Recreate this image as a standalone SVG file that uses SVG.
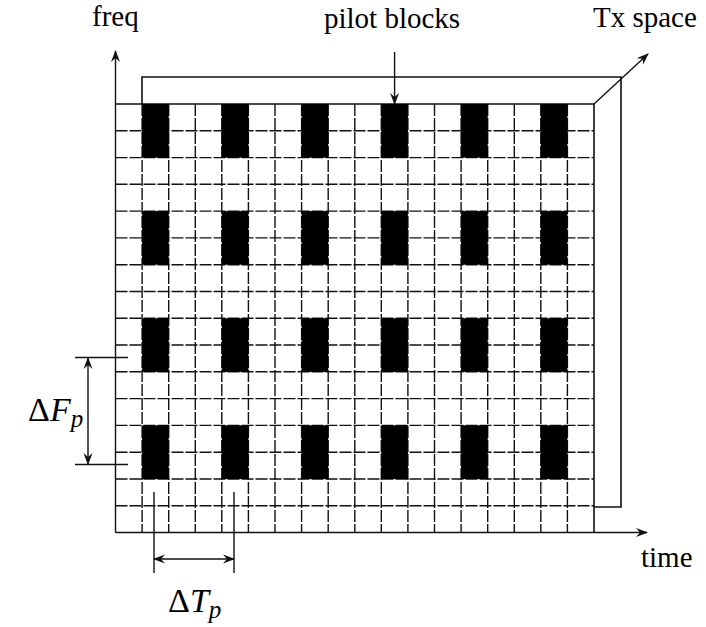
<svg xmlns="http://www.w3.org/2000/svg" width="706" height="627" viewBox="0 0 706 627">
<style>
.lbl{font-family:"Liberation Serif","DejaVu Serif",serif;font-size:29px;fill:#000}
.math{font-family:"Liberation Serif","DejaVu Serif",serif;font-size:34px;fill:#000}
.it{font-style:italic}
.grid{stroke:#111;stroke-width:1.4;stroke-dasharray:12,2;fill:none}
.frame{stroke:#111;stroke-width:1.6;fill:none}
.conn{stroke:#111;stroke-width:1.4;fill:none}
.pilot{fill:#000}
</style>
<defs>
<marker id="ah" viewBox="0 0 12 10" refX="11" refY="5" markerWidth="12" markerHeight="10" markerUnits="userSpaceOnUse" orient="auto-start-reverse">
<path d="M0,0.5 L12,5 L0,9.5 L4,5 Z" fill="#111"/>
</marker>
</defs>
<rect width="706" height="627" fill="#fff"/>

<g id="tx-space-frame">
<polyline class="frame" points="142,104 142,77 621,77 621,507 594,507"/>
</g>

<g id="grid">
<g class="grid">
<path d="M142.1,104V532.5 M168.7,104V532.5 M195.3,104V532.5 M221.8,104V532.5 M248.4,104V532.5 M275,104V532.5 M301.6,104V532.5 M328.2,104V532.5 M354.8,104V532.5 M381.3,104V532.5 M407.9,104V532.5 M434.5,104V532.5 M461.1,104V532.5 M487.7,104V532.5 M514.3,104V532.5 M540.8,104V532.5 M567.4,104V532.5"/>
<path d="M115.5,130.8H594 M115.5,157.6H594 M115.5,184.3H594 M115.5,211.1H594 M115.5,237.9H594 M115.5,264.7H594 M115.5,291.5H594 M115.5,318.3H594 M115.5,345H594 M115.5,371.8H594 M115.5,398.6H594 M115.5,425.4H594 M115.5,452.2H594 M115.5,479H594 M115.5,505.7H594"/>
</g>
<polyline class="frame" points="115.5,104 594,104 594,532.5"/>
</g>

<g id="pilot-blocks">
<g class="pilot">
<rect x="142.1" y="104" width="26.6" height="53.6"/>
<rect x="221.8" y="104" width="26.6" height="53.6"/>
<rect x="301.6" y="104" width="26.6" height="53.6"/>
<rect x="381.3" y="104" width="26.6" height="53.6"/>
<rect x="461.1" y="104" width="26.6" height="53.6"/>
<rect x="540.8" y="104" width="26.6" height="53.6"/>
<rect x="142.1" y="211.1" width="26.6" height="53.6"/>
<rect x="221.8" y="211.1" width="26.6" height="53.6"/>
<rect x="301.6" y="211.1" width="26.6" height="53.6"/>
<rect x="381.3" y="211.1" width="26.6" height="53.6"/>
<rect x="461.1" y="211.1" width="26.6" height="53.6"/>
<rect x="540.8" y="211.1" width="26.6" height="53.6"/>
<rect x="142.1" y="318.3" width="26.6" height="53.6"/>
<rect x="221.8" y="318.3" width="26.6" height="53.6"/>
<rect x="301.6" y="318.3" width="26.6" height="53.6"/>
<rect x="381.3" y="318.3" width="26.6" height="53.6"/>
<rect x="461.1" y="318.3" width="26.6" height="53.6"/>
<rect x="540.8" y="318.3" width="26.6" height="53.6"/>
<rect x="142.1" y="425.4" width="26.6" height="53.6"/>
<rect x="221.8" y="425.4" width="26.6" height="53.6"/>
<rect x="301.6" y="425.4" width="26.6" height="53.6"/>
<rect x="381.3" y="425.4" width="26.6" height="53.6"/>
<rect x="461.1" y="425.4" width="26.6" height="53.6"/>
<rect x="540.8" y="425.4" width="26.6" height="53.6"/>
</g>
</g>

<g id="connectors">
<line class="conn" x1="115.5" y1="532.5" x2="115.5" y2="51" marker-end="url(#ah)"/>
<line class="conn" x1="115.5" y1="532.5" x2="647" y2="532.5" marker-end="url(#ah)"/>
<line class="conn" x1="594" y1="104" x2="648" y2="54" marker-end="url(#ah)"/>
<line class="conn" x1="394.6" y1="52" x2="394.6" y2="104" marker-end="url(#ah)"/>
<line class="conn" x1="75" y1="357.5" x2="128" y2="357.5"/>
<line class="conn" x1="75" y1="464.5" x2="128" y2="464.5"/>
<line class="conn" x1="88" y1="358" x2="88" y2="464" marker-start="url(#ah)" marker-end="url(#ah)"/>
<line class="conn" x1="154" y1="492" x2="154" y2="573"/>
<line class="conn" x1="234" y1="492" x2="234" y2="573"/>
<line class="conn" x1="154" y1="559" x2="234" y2="559" marker-start="url(#ah)" marker-end="url(#ah)"/>
</g>

<g id="labels">
<text class="lbl" x="92" y="26">freq</text>
<text class="lbl" x="324" y="28">pilot blocks</text>
<text class="lbl" x="593" y="27">Tx space</text>
<text class="lbl" x="641" y="567">time</text>
<text class="math" x="28" y="421">Δ<tspan class="it">F</tspan><tspan class="it" font-size="25" dy="6">p</tspan></text>
<text class="math" x="168" y="612">Δ<tspan class="it">T</tspan><tspan class="it" font-size="25" dy="6">p</tspan></text>
</g>
</svg>
